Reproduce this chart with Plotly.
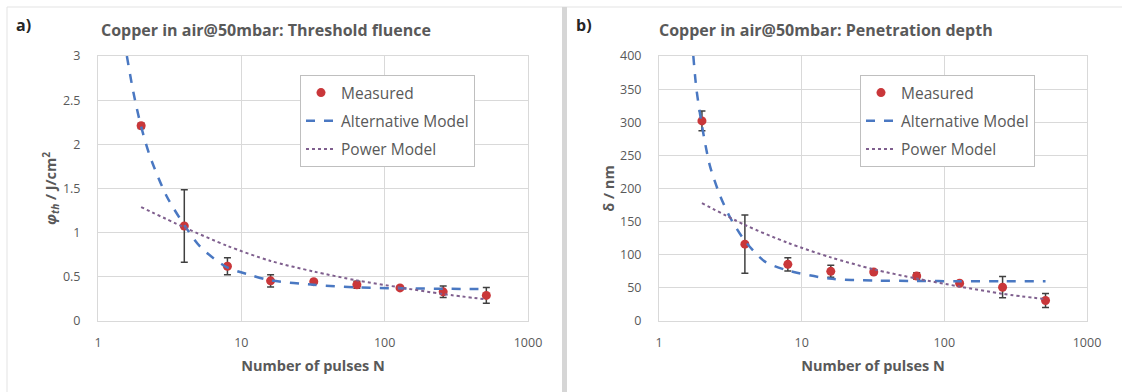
import plotly.graph_objects as go

# ---------------- data ----------------
pulses = [2, 4, 8, 16, 32, 64, 128, 256, 512]

fluence = [2.21, 1.075, 0.62, 0.455, 0.445, 0.41, 0.375, 0.33, 0.29]
fluence_err = [0.03, 0.41, 0.095, 0.07, 0.02, 0.04, 0.015, 0.065, 0.09]

depth = [302, 116, 85.5, 75, 74, 68, 57, 51, 31]
depth_err = [15, 44, 10, 9, 3, 5, 3, 16, 10.5]

alt_a_n = [1.59, 1.77, 2, 2.31, 3.02, 4.06, 5.17, 7.9, 11.6, 16, 32, 64, 128, 256, 512]
alt_a = [3.0, 2.58, 2.2, 1.86, 1.41, 1.07, 0.84, 0.61, 0.52, 0.46, 0.41, 0.38, 0.37, 0.365, 0.36]

pow_a_n = [2, 4, 8, 16, 32, 64, 128, 256, 512]
pow_a = [1.29, 1.06, 0.85, 0.68, 0.56, 0.46, 0.38, 0.305, 0.245]

alt_b_n = [1.74, 1.83, 2, 2.27, 2.67, 3.14, 4, 5.5, 7.8, 15.6, 32, 64, 128, 256, 512]
alt_b = [400, 350, 295, 235, 190, 157, 121, 90, 77, 64, 61, 60.5, 60, 60, 60]

pow_b_n = [2, 4, 8, 16, 32, 64, 128, 256, 512]
pow_b = [178, 145, 118, 96, 78, 64, 52, 41, 33]

x_ticks = [1, 10, 100, 1000]
x_tick_text = ["1", "10", "100", "1000"]

# ---------------- styling ----------------
W, H = 1122, 392
FONT = "Open Sans"
GREY = "#595959"
GRID = "#d9d9d9"
RED = "#c9373a"
BLUE = "#4a78c2"
PURPLE = "#7f5f8e"
ERR = "#404040"


def px(x):
    return x / W


def py(y):
    return 1 - y / H


fig = go.Figure()


def add_panel(xa, ya, legend, y, yerr, altn, alt, pown, pw):
    fig.add_trace(go.Scatter(
        x=pulses, y=y, mode="markers", name="Measured",
        marker=dict(color=RED, size=9),
        error_y=dict(type="data", array=yerr, visible=True, color=ERR,
                     thickness=1.5, width=3.5),
        xaxis=xa, yaxis=ya, legend=legend, legendgroup=legend + "m"))
    fig.add_trace(go.Scatter(
        x=altn, y=alt, mode="lines", name="Alternative Model",
        line=dict(color=BLUE, width=2.5, dash="dash", shape="spline", smoothing=0.8),
        xaxis=xa, yaxis=ya, legend=legend, legendgroup=legend + "a"))
    fig.add_trace(go.Scatter(
        x=pown, y=pw, mode="lines", name="Power Model",
        line=dict(color=PURPLE, width=2, dash="dot", shape="spline", smoothing=0.8),
        xaxis=xa, yaxis=ya, legend=legend, legendgroup=legend + "p"))


add_panel("x", "y", "legend", fluence, fluence_err, alt_a_n, alt_a, pow_a_n, pow_a)
add_panel("x2", "y2", "legend2", depth, depth_err, alt_b_n, alt_b, pow_b_n, pow_b)

xcommon = dict(type="log", range=[0, 3], tickvals=x_ticks, ticktext=x_tick_text,
               automargin=False,
               showgrid=True, gridcolor=GRID, gridwidth=1,
               showline=True, linecolor=GRID, linewidth=1, mirror=True,
               zeroline=False, ticks="outside", ticklen=10, tickcolor="rgba(0,0,0,0)",
               tickfont=dict(family=FONT, size=12.5, color=GREY),
               title=dict(text="<b>Number of pulses N</b>", standoff=10,
                          font=dict(family=FONT, size=14.5, color=GREY)))
ycommon = dict(automargin=False,
               showgrid=True, gridcolor=GRID, gridwidth=1,
               showline=True, linecolor=GRID, linewidth=1, mirror=True,
               zeroline=False, ticks="outside", ticklen=14, tickcolor="rgba(0,0,0,0)",
               tickfont=dict(family=FONT, size=12.5, color=GREY))

legend_common = dict(bgcolor="white", bordercolor="#bfbfbf", borderwidth=1,
                     font=dict(family=FONT, size=15.5, color=GREY),
                     xanchor="left", yanchor="top", tracegroupgap=5,
                     traceorder="grouped", itemwidth=30)

fig.update_layout(
    width=W, height=H,
    margin=dict(l=0, r=0, t=0, b=0, autoexpand=False),
    paper_bgcolor="white", plot_bgcolor="white",
    showlegend=True,
    xaxis=dict(domain=[px(98), px(528)], anchor="y", **xcommon),
    xaxis2=dict(domain=[px(659), px(1087)], anchor="y2", **xcommon),
    yaxis=dict(domain=[py(321), py(56)], anchor="x", range=[0, 3], dtick=0.5,
               title=dict(text="<b><i>φ<sub>th</sub></i> / J/cm<sup>2</sup></b>", standoff=2,
                          font=dict(family=FONT, size=14.5, color=GREY)),
               **ycommon),
    yaxis2=dict(domain=[py(321), py(56)], anchor="x2", range=[0, 400], dtick=50,
                title=dict(text="<b>δ / nm</b>", standoff=1,
                           font=dict(family=FONT, size=14.5, color=GREY)),
                **ycommon),
    legend=dict(x=px(300), y=py(75), **legend_common),
    legend2=dict(x=px(860), y=py(75), **legend_common),
)

annotations = [
    dict(text="<b>Copper in air@50mbar: Threshold fluence</b>", x=px(266), y=py(30),
         font=dict(family=FONT, size=16, color=GREY)),
    dict(text="<b>Copper in air@50mbar: Penetration depth</b>", x=px(826), y=py(30),
         font=dict(family=FONT, size=16, color=GREY)),
    dict(text="<b>a)</b>", x=px(23), y=py(25), font=dict(family=FONT, size=16, color="#262626")),
    dict(text="<b>b)</b>", x=px(584), y=py(25), font=dict(family=FONT, size=16, color="#262626")),
]
for a in annotations:
    fig.add_annotation(xref="paper", yref="paper", showarrow=False,
                       xanchor="center", yanchor="middle", **a)

# panel frames
fig.add_shape(type="line", xref="paper", yref="paper", x0=px(7), x1=1, y0=py(7), y1=py(7),
              line=dict(color="#e3e3e3", width=1))
fig.add_shape(type="line", xref="paper", yref="paper", x0=px(7), x1=px(7), y0=0, y1=py(7),
              line=dict(color="#e3e3e3", width=1))
fig.add_shape(type="rect", xref="paper", yref="paper", x0=px(562), x1=px(567), y0=0, y1=py(7),
              fillcolor="#d6d6d6", line=dict(width=0))

fig.write_html("out.html", config={"displayModeBar": False},
               post_script="document.body.style.margin='0';document.body.style.overflow='hidden';")
